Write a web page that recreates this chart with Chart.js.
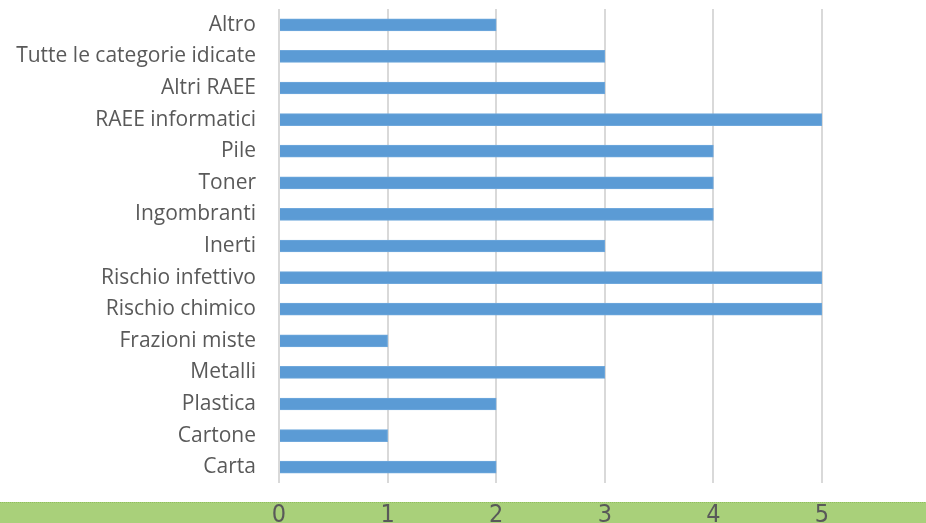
<!DOCTYPE html>
<html>
<head>
<meta charset="utf-8">
<script src="https://cdn.jsdelivr.net/npm/chart.js@4/dist/chart.umd.min.js"></script>
<style>
html,body{margin:0;padding:0;background:#fff;}
#wrap{position:relative;width:926px;height:523px;}
</style>
</head>
<body>
<div id="wrap"><canvas id="c" width="926" height="523"></canvas></div>
<script>
const categories = ["Carta","Cartone","Plastica","Metalli","Frazioni miste","Rischio chimico","Rischio infettivo","Inerti","Ingombranti","Toner","Pile","RAEE informatici","Altri RAEE","Tutte le categorie idicate","Altro"];
const values = [2,1,2,3,1,5,5,3,4,4,4,5,3,3,2];
const xTicks = [0,1,2,3,4,5];

const band = {
  id:'band',
  beforeDraw(chart){
    const ctx = chart.ctx;
    ctx.save();
    ctx.fillStyle = '#a9d07a';
    ctx.fillRect(0, 502, chart.width, chart.height-502);
    ctx.strokeStyle = '#8fbf5c';
    ctx.setLineDash([1,1]);
    ctx.lineWidth = 1;
    ctx.beginPath(); ctx.moveTo(0,502.5); ctx.lineTo(chart.width,502.5); ctx.stroke();
    ctx.restore();
  }
};

new Chart(document.getElementById('c'), {
  type:'bar',
  data:{labels:categories, datasets:[{data:values, backgroundColor:'#5b9bd5', borderColor:'#6fa8dc', borderWidth:1, barThickness:12}]},
  options:{
    indexAxis:'y',
    responsive:false,
    animation:false,
    layout:{padding:{top:9,right:104,left:0,bottom:0}},
    plugins:{legend:{display:false},tooltip:{enabled:false}},
    scales:{
      x:{
        min:0,max:5,
        afterBuildTicks(s){ s.ticks = xTicks.map(v=>({value:v})); },
        afterFit(s){ s.height = 40; s.paddingTop = 0; s.paddingBottom = 0; },
        grid:{color:'#d9d9d9',lineWidth:2,drawTicks:false},
        border:{display:false},
        ticks:{padding:17,color:'#595959',font:{family:'"Liberation Sans Narrow","DejaVu Sans Condensed",sans-serif',size:25}}
      },
      y:{
        reverse:true,
        afterFit(s){ s.width = 279; s.paddingTop = 0; s.paddingBottom = 0; },
        grid:{display:false,drawTicks:false},
        border:{display:false},
        ticks:{padding:23,color:'#595959',autoSkip:false,font:{family:'"Open Sans",sans-serif',size:21}}
      }
    }
  },
  plugins:[band]
});
</script>
</body>
</html>
